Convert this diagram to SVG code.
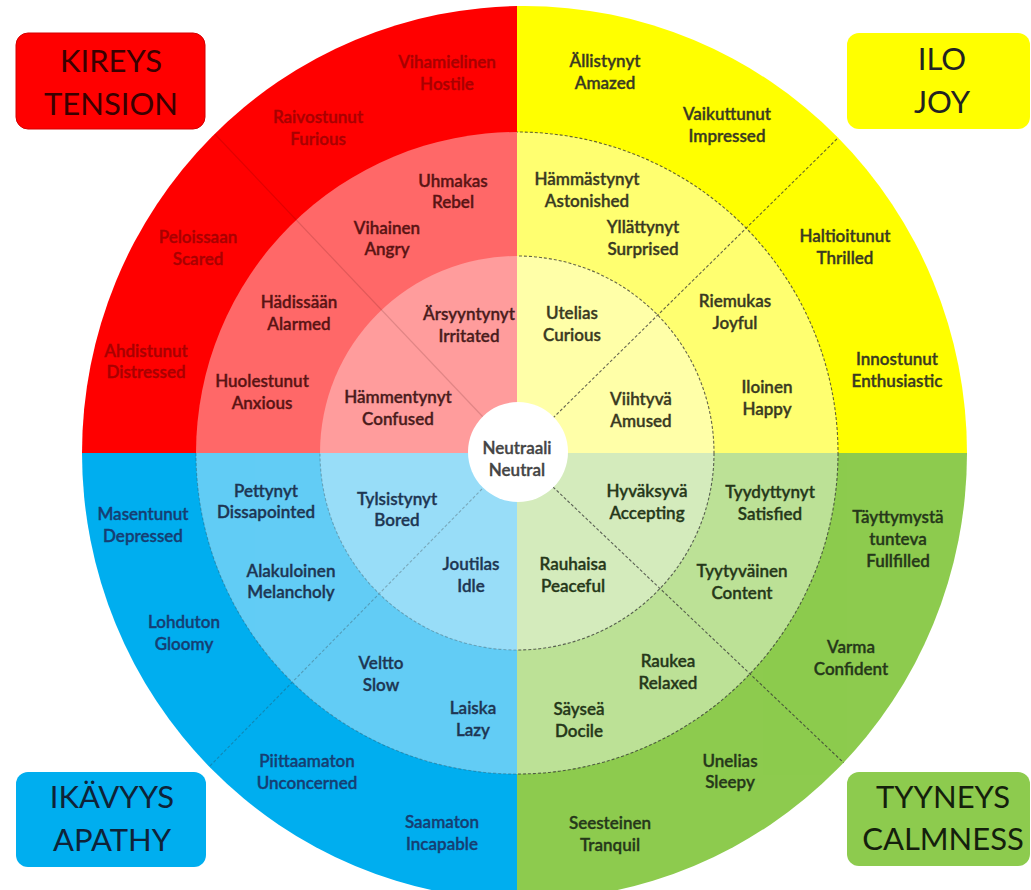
<svg xmlns="http://www.w3.org/2000/svg" width="1031" height="890" viewBox="0 0 1031 890">
<style>
text{font-family:Lato,"Noto Sans","Liberation Sans",sans-serif;text-anchor:middle}
.l{font-size:17px;font-weight:600;stroke-width:0.35}
.t{font-size:31px}
.ro{fill:#A80000;stroke:#A80000}
.rm{fill:#5A1414;stroke:#5A1414}
.ri{fill:#4A1C1C;stroke:#4A1C1C}
.y{fill:#3A3A22;stroke:#3A3A22}
.g{fill:#26381A;stroke:#26381A}
.bo{fill:#163E73;stroke:#163E73}
.bm{fill:#1E3653;stroke:#1E3653}
.n{fill:#444;stroke:#444}
.dash{fill:none;stroke:#333;stroke-width:1.1;stroke-dasharray:3 2}
</style>
<defs>
<clipPath id="cTL"><rect x="0" y="0" width="517" height="453"/></clipPath>
<clipPath id="cTR"><rect x="517" y="0" width="514" height="453"/></clipPath>
<clipPath id="cBL"><rect x="0" y="453" width="517" height="437"/></clipPath>
<clipPath id="cBR"><rect x="517" y="453" width="514" height="437"/></clipPath>
<clipPath id="cOut"><ellipse cx="524.5" cy="453" rx="442.5" ry="447"/></clipPath>
</defs>
<rect width="1031" height="890" fill="#fff"/>
<g id="wheel">
<g id="q-tension" clip-path="url(#cTL)">
<ellipse cx="524.5" cy="453" rx="442.5" ry="447" fill="#FF0000"/>
<circle cx="517" cy="453" r="321" fill="#FF6868"/>
<circle cx="517" cy="453" r="197" fill="#FF9C9C"/>
</g>
<g id="q-joy" clip-path="url(#cTR)">
<ellipse cx="524.5" cy="453" rx="442.5" ry="447" fill="#FFFF00"/>
<circle cx="517" cy="453" r="321" fill="#FFFF70"/>
<circle cx="517" cy="453" r="197" fill="#FFFFA8"/>
</g>
<g id="q-apathy" clip-path="url(#cBL)">
<ellipse cx="524.5" cy="453" rx="442.5" ry="447" fill="#00AEEF"/>
<circle cx="517" cy="453" r="321" fill="#62CCF5"/>
<circle cx="517" cy="453" r="197" fill="#98DDF8"/>
</g>
<g id="q-calmness" clip-path="url(#cBR)">
<ellipse cx="524.5" cy="453" rx="442.5" ry="447" fill="#8DCB4E"/>
<circle cx="517" cy="453" r="321" fill="#BCE196"/>
<circle cx="517" cy="453" r="197" fill="#D4EBBC"/>
</g>
</g>
<g id="connectors" clip-path="url(#cOut)">
<g clip-path="url(#cTR)" opacity="0.75">
<circle class="dash" cx="517" cy="453" r="321"/>
<circle class="dash" cx="517" cy="453" r="197"/>
<line class="dash" x1="553" y1="418" x2="845" y2="131"/>
</g>
<g clip-path="url(#cBR)" opacity="0.75">
<circle class="dash" cx="517" cy="453" r="321"/>
<circle class="dash" cx="517" cy="453" r="197"/>
<line class="dash" x1="553" y1="487" x2="846" y2="765"/>
</g>
<g clip-path="url(#cBL)" opacity="0.3">
<circle class="dash" cx="517" cy="453" r="321"/>
<circle class="dash" cx="517" cy="453" r="197"/>
<line class="dash" x1="482" y1="489" x2="206" y2="770"/>
</g>
<g clip-path="url(#cTL)" opacity="0.14">
<line x1="483" y1="417" x2="211" y2="130" stroke="#300" stroke-width="1.2"/>
</g>
</g>
<g id="neutral">
<circle cx="518" cy="452" r="50" fill="#fff"/>
<text class="l n" x="517" y="454">Neutraali</text>
<text class="l n" x="517" y="476">Neutral</text>
</g>
<g id="box-tension">
<rect x="16" y="33" width="189" height="96" rx="12" fill="#FF0000" stroke="#D40000" stroke-width="1"/>
<text class="t" fill="#3A0000" x="111" y="72">KIREYS</text>
<text class="t" fill="#3A0000" x="111" y="115">TENSION</text>
</g>
<g id="box-joy">
<rect x="847" y="33" width="183" height="96" rx="12" fill="#FFFF00"/>
<text class="t" fill="#222" x="942" y="70">ILO</text>
<text class="t" fill="#222" x="942" y="113">JOY</text>
</g>
<g id="box-apathy">
<rect x="16" y="772" width="190" height="95" rx="12" fill="#00AEEF"/>
<text class="t" fill="#0F2338" x="112" y="808">IKÄVYYS</text>
<text class="t" fill="#0F2338" x="112" y="851">APATHY</text>
</g>
<g id="box-calmness">
<rect x="847" y="772" width="183" height="94" rx="12" fill="#8DCB4E"/>
<text class="t" fill="#14200C" x="943" y="808">TYYNEYS</text>
<text class="t" fill="#14200C" x="943" y="850">CALMNESS</text>
</g>
<g id="n-hostile" class="l ro"><text x="447" y="68">Vihamielinen</text><text x="447" y="90">Hostile</text></g>
<g id="n-furious" class="l ro"><text x="318" y="123">Raivostunut</text><text x="318" y="145">Furious</text></g>
<g id="n-scared" class="l ro"><text x="198" y="243">Peloissaan</text><text x="198" y="265">Scared</text></g>
<g id="n-distressed" class="l ro"><text x="146" y="357">Ahdistunut</text><text x="146" y="378">Distressed</text></g>
<g id="n-rebel" class="l rm"><text x="453" y="187">Uhmakas</text><text x="453" y="208">Rebel</text></g>
<g id="n-angry" class="l rm"><text x="387" y="234">Vihainen</text><text x="387" y="255">Angry</text></g>
<g id="n-alarmed" class="l rm"><text x="299" y="308">Hädissään</text><text x="299" y="330">Alarmed</text></g>
<g id="n-anxious" class="l rm"><text x="262" y="387">Huolestunut</text><text x="262" y="409">Anxious</text></g>
<g id="n-irritated" class="l ri"><text x="469" y="320">Ärsyyntynyt</text><text x="469" y="342">Irritated</text></g>
<g id="n-confused" class="l ri"><text x="398" y="403">Hämmentynyt</text><text x="398" y="425">Confused</text></g>
<g id="n-amazed" class="l y"><text x="605" y="67">Ällistynyt</text><text x="605" y="89">Amazed</text></g>
<g id="n-impressed" class="l y"><text x="727" y="120">Vaikuttunut</text><text x="727" y="142">Impressed</text></g>
<g id="n-thrilled" class="l y"><text x="845" y="242">Haltioitunut</text><text x="845" y="264">Thrilled</text></g>
<g id="n-enthusiastic" class="l y"><text x="897" y="365">Innostunut</text><text x="897" y="387">Enthusiastic</text></g>
<g id="n-astonished" class="l y"><text x="587" y="185">Hämmästynyt</text><text x="587" y="207">Astonished</text></g>
<g id="n-surprised" class="l y"><text x="643" y="233">Yllättynyt</text><text x="643" y="255">Surprised</text></g>
<g id="n-joyful" class="l y"><text x="735" y="307">Riemukas</text><text x="735" y="329">Joyful</text></g>
<g id="n-happy" class="l y"><text x="767" y="393">Iloinen</text><text x="767" y="415">Happy</text></g>
<g id="n-curious" class="l y"><text x="572" y="319">Utelias</text><text x="572" y="341">Curious</text></g>
<g id="n-amused" class="l y"><text x="641" y="405">Viihtyvä</text><text x="641" y="427">Amused</text></g>
<g id="n-accepting" class="l g"><text x="647" y="497">Hyväksyvä</text><text x="647" y="519">Accepting</text></g>
<g id="n-peaceful" class="l g"><text x="573" y="570">Rauhaisa</text><text x="573" y="592">Peaceful</text></g>
<g id="n-satisfied" class="l g"><text x="770" y="498">Tyydyttynyt</text><text x="770" y="520">Satisfied</text></g>
<g id="n-content" class="l g"><text x="742" y="577">Tyytyväinen</text><text x="742" y="599">Content</text></g>
<g id="n-relaxed" class="l g"><text x="668" y="667">Raukea</text><text x="668" y="689">Relaxed</text></g>
<g id="n-docile" class="l g"><text x="579" y="715">Säyseä</text><text x="579" y="737">Docile</text></g>
<g id="n-fullfilled" class="l g"><text x="898" y="523">Täyttymystä</text><text x="898" y="545">tunteva</text><text x="898" y="567">Fullfilled</text></g>
<g id="n-confident" class="l g"><text x="851" y="653">Varma</text><text x="851" y="675">Confident</text></g>
<g id="n-sleepy" class="l g"><text x="730" y="767">Unelias</text><text x="730" y="788">Sleepy</text></g>
<g id="n-tranquil" class="l g"><text x="610" y="829">Seesteinen</text><text x="610" y="851">Tranquil</text></g>
<g id="n-depressed" class="l bo"><text x="143" y="520">Masentunut</text><text x="143" y="542">Depressed</text></g>
<g id="n-gloomy" class="l bo"><text x="184" y="628">Lohduton</text><text x="184" y="650">Gloomy</text></g>
<g id="n-unconcerned" class="l bo"><text x="307" y="767">Piittaamaton</text><text x="307" y="789">Unconcerned</text></g>
<g id="n-incapable" class="l bo"><text x="442" y="828">Saamaton</text><text x="442" y="850">Incapable</text></g>
<g id="n-dissapointed" class="l bm"><text x="266" y="497">Pettynyt</text><text x="266" y="518">Dissapointed</text></g>
<g id="n-melancholy" class="l bm"><text x="291" y="577">Alakuloinen</text><text x="291" y="598">Melancholy</text></g>
<g id="n-slow" class="l bm"><text x="381" y="669">Veltto</text><text x="381" y="691">Slow</text></g>
<g id="n-lazy" class="l bm"><text x="473" y="714">Laiska</text><text x="473" y="736">Lazy</text></g>
<g id="n-bored" class="l bm"><text x="397" y="505">Tylsistynyt</text><text x="397" y="526">Bored</text></g>
<g id="n-idle" class="l bm"><text x="471" y="570">Joutilas</text><text x="471" y="592">Idle</text></g>
</svg>
